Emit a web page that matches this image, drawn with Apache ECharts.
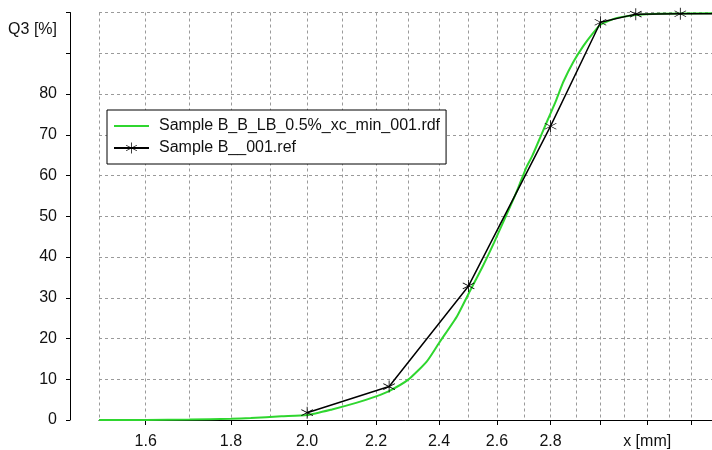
<!DOCTYPE html>
<html>
<head>
<meta charset="utf-8">
<script src="https://cdn.jsdelivr.net/npm/echarts@6/dist/echarts.min.js"></script>
<style>html,body{margin:0;padding:0;background:#fff}#c{width:712px;height:450px}</style>
</head>
<body>
<div id="c"></div>
<script>
// ---- data ----
const sampleName = 'Sample B_B_LB_0.5%_xc_min_001.rdf';
const refName = 'Sample B__001.ref';
const sampleX = [1.5, 1.6, 1.7, 1.8, 1.85, 1.93, 2.0, 2.07, 2.14, 2.2, 2.24, 2.3, 2.36, 2.4, 2.46, 2.5, 2.55, 2.59, 2.63, 2.66, 2.68, 2.71, 2.73, 2.76, 2.79, 2.82, 2.85, 2.89, 2.93, 2.97, 3.0, 3.05, 3.08, 3.15, 3.25, 3.5];
const sampleY = [0, 0, 0.1, 0.3, 0.5, 0.9, 1.2, 2.6, 4.2, 5.8, 7.1, 9.9, 14.4, 18.9, 25.4, 31.0, 37.8, 43.6, 49.7, 54.2, 57.4, 62.3, 64.8, 69.3, 73.8, 78.2, 83.0, 87.9, 91.8, 95.0, 97.0, 98.3, 98.8, 99.4, 99.7, 99.8];
const refX = [2.0, 2.24, 2.5, 2.8, 3.0, 3.15, 3.35, 3.55];
const refY = [1.8, 8.2, 32.9, 72.1, 97.6, 99.6, 99.7, 99.7];
const xTicks = [1.6, 1.8, 2.0, 2.2, 2.4, 2.6, 2.8, 3.0, 3.2, 3.4];
const xLabels = [1.6, 1.8, 2.0, 2.2, 2.4, 2.6, 2.8, 3.2];
const xGrid = [1.5, 1.6, 1.7, 1.8, 1.9, 2.0, 2.1, 2.2, 2.3, 2.4, 2.5, 2.6, 2.7, 2.8, 2.9, 3.0, 3.1, 3.2, 3.3, 3.4, 3.5];
const xName = 'x [mm]';
const yName = 'Q3 [%]';

const zip = (a, b) => a.map((v, i) => [v, b[i]]);
const FONT = "'Liberation Sans', Arial, sans-serif";
const STAR = 'path://M9.4 0H10.6V20H9.4Z M1.04 14.48L18.36 4.48L18.96 5.52L1.64 15.52Z M1.64 4.48L18.96 14.48L18.36 15.52L1.04 5.52Z';

const chart = echarts.init(document.getElementById('c'), null, {renderer: 'canvas'});
chart.setOption({
  backgroundColor: '#fff',
  animation: false,
  textStyle: {fontFamily: FONT},
  grid: {left: 99, top: 12.5, width: 614, height: 408, containLabel: false},
  legend: {
    orient: 'vertical', left: 107, top: 110,
    backgroundColor: '#fff', borderColor: '#000', borderWidth: 1, borderRadius: 0,
    padding: [8, 6, 8, 6], itemGap: 6, itemWidth: 35, itemHeight: 14,
    textStyle: {fontFamily: FONT, fontSize: 16, color: '#111', padding: [0, 0, 0, 5]},
    data: [{name: sampleName, itemStyle: {opacity: 0}}, {name: refName}]
  },
  xAxis: [{
    type: 'log', logBase: 10, min: 1.5, max: 3.5,
    axisLine: {lineStyle: {color: '#000', width: 1}},
    axisTick: {customValues: xTicks, length: 5, lineStyle: {color: '#000'}},
    axisLabel: {customValues: xLabels, margin: 14, fontSize: 16, color: '#111', fontFamily: FONT,
      formatter: v => v > 3.1 ? xName : Number(v).toFixed(1)},
    splitLine: {show: false}, minorTick: {show: false}
  }, {
    type: 'log', logBase: 10, min: 1.5, max: 3.5, gridIndex: 0, position: 'bottom',
    axisLine: {show: false}, axisLabel: {show: false},
    axisTick: {show: false, customValues: xGrid},
    splitLine: {show: true, lineStyle: {color: '#9a9a9a', type: [3, 3], width: 1}}
  }],
  yAxis: {
    type: 'value', min: 0, max: 100, interval: 10, offset: 29,
    name: yName, nameLocation: 'end', nameGap: -17,
    nameTextStyle: {fontFamily: FONT, fontSize: 16, color: '#111', align: 'right', verticalAlign: 'middle', padding: [0, 13, 0, 0]},
    axisLine: {show: true, lineStyle: {color: '#000', width: 1}},
    axisTick: {show: true, length: 4, lineStyle: {color: '#000'}},
    axisLabel: {margin: 13, fontSize: 16, color: '#111', fontFamily: FONT, formatter: v => v > 80 ? '' : String(v)},
    splitLine: {show: true, lineStyle: {color: '#9a9a9a', type: [3, 3], width: 1}}
  },
  series: [{
    name: sampleName, type: 'line', xAxisIndex: 0, data: zip(sampleX, sampleY),
    showSymbol: false, symbol: 'none', smooth: 0.2, clip: true,
    lineStyle: {color: '#2fd62f', width: 2}, itemStyle: {color: '#2fd62f'}, z: 3
  }, {
    name: refName, type: 'line', xAxisIndex: 0, data: zip(refX, refY),
    symbol: STAR, symbolSize: 12, showSymbol: true, clip: true,
    lineStyle: {color: '#000', width: 1.5}, itemStyle: {color: '#000', borderWidth: 0}, z: 4
  }]
});
</script>
</body>
</html>
